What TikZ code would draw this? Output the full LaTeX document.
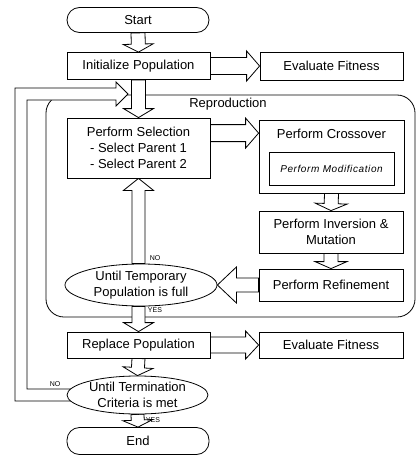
\documentclass[tikz,border=0pt]{standalone}
\usepackage{fontspec}
\setmainfont{Liberation Sans}
\usetikzlibrary{calc,shapes.geometric}
\pgfdeclarelayer{back}
\pgfdeclarelayer{mid}
\pgfsetlayers{back,mid,main}
% block (hollow) arrow: from, to, shaft half width, head half width, head length
\newcommand\blockarrow[5]{%
  \path ($(#2)!#5!(#1)$) coordinate (hb);
  \draw[barrow] ($(#1)!#3!90:(#2)$) -- ($(hb)!#3!90:(#2)$) -- ($(hb)!#4!90:(#2)$) -- (#2)
    -- ($(hb)!#4!-90:(#2)$) -- ($(hb)!#3!-90:(#2)$) -- ($(#1)!#3!-90:(#2)$) -- cycle;}
\begin{document}
\begin{tikzpicture}[x=1pt,y=-1pt,
  txt/.style={font=\fontsize{13}{16}\selectfont},
  box/.style={txt, draw, fill=white, line width=0.8pt, inner sep=0pt, align=center, minimum width=143pt},
  stadium/.style={box, rounded corners=12.5pt},
  oval/.style={txt, ellipse, draw, fill=white, line width=0.8pt, inner sep=0pt, align=center},
  barrow/.style={draw, fill=white, line width=0.8pt, line join=miter},
  small/.style={font=\fontsize{7}{8}\selectfont, inner sep=0pt}]
\useasboundingbox (0,0) rectangle (417,463);
\begin{pgfonlayer}{back}
\node[draw, line width=0.8pt, rounded corners=18pt, minimum width=369pt, minimum height=222pt, inner sep=0pt] (repro) at (230.5,206) {};
\end{pgfonlayer}
\node[txt] (reprotxt) at (228,104) {Reproduction};

\node[stadium, minimum height=25pt, minimum width=142pt] (start) at (138,20) {Start};
\node[box, minimum height=27pt] (init) at (138.5,66) {Initialize Population};
\node[box, minimum height=28pt] (eval1) at (331.5,66) {Evaluate Fitness};
\node[box, minimum height=60pt] (sel) at (138.5,148) {Perform Selection\\- Select Parent 1\\- Select Parent 2};
\node[box, minimum width=145pt, minimum height=73pt] (cross) at (331.5,156.5) {};
\node[txt, inner sep=0pt] (crosstxt) at (331.5,134) {Perform Crossover};
\node[draw, fill=white, line width=0.6pt, minimum width=125pt, minimum height=33pt, inner sep=0pt,
  font=\fontsize{10}{12}\selectfont\itshape\addfontfeature{LetterSpace=6}] (mod) at (331.5,168.5) {Perform Modification};
\node[box, minimum width=144pt, minimum height=42pt] (inv) at (331,232) {Perform Inversion \&\\Mutation};
\node[box, minimum width=144pt, minimum height=32pt] (ref) at (331,285) {Perform Refinement};
\node[oval, minimum width=152pt, minimum height=42pt] (temp) at (141,285) {Until Temporary\\Population is full};
\node[box, minimum height=26pt] (repl) at (138.5,345) {Replace Population};
\node[box, minimum width=144pt, minimum height=26pt] (eval2) at (331,345) {Evaluate Fitness};
\node[oval, minimum width=141pt, minimum height=38pt] (term) at (137.5,395) {Until Termination\\Criteria is met};
\node[stadium, minimum height=27pt, minimum width=142pt] (end) at (138,441) {End};

\node[small] (no1) at (155,258) {NO};
\node[small] (yes1) at (155,310) {YES};
\node[small] (no2) at (55,384) {NO};
\node[small] (yes2) at (153,420) {YES};

\begin{pgfonlayer}{mid}
% feedback from termination check back to the loop start
\draw[barrow] ($(term.west)+(12,-6)$) -- (27,389) -- (27,100) -- (116,100) -- (116,106) -- (128,94)
  -- (116,82) -- (116,88) -- (15,88) -- (15,401) -- ($(term.west)+(12,6)$) -- cycle;
\blockarrow{start.south}{init.north}{7pt}{15pt}{8pt}
\blockarrow{init.south}{sel.north}{7pt}{15pt}{9pt}
\blockarrow{init.east}{eval1.west}{8.5pt}{15pt}{13pt}
\coordinate (sc) at ($(sel.north east)+(0,15.5)$);
\coordinate (cc) at (sc -| cross.west);
\blockarrow{sc}{cc}{8.5pt}{15pt}{13pt}
\blockarrow{cross.south}{inv.north}{7pt}{16pt}{7pt}
\blockarrow{inv.south}{ref.north}{7pt}{16pt}{7pt}
\coordinate (tw) at (temp.east |- ref.west);
\blockarrow{ref.west}{tw}{7pt}{18pt}{19pt}
\coordinate (tn) at (temp.north -| sel.south);
\blockarrow{tn}{sel.south}{6.5pt}{15pt}{12pt}
\coordinate (ts) at (temp.south -| repl.north);
\blockarrow{ts}{repl.north}{6.5pt}{15pt}{9pt}
\blockarrow{repl.east}{eval2.west}{8pt}{14pt}{13pt}
\blockarrow{repl.south}{term.north}{6.5pt}{15pt}{8pt}
\blockarrow{term.south}{end.north}{6.5pt}{15pt}{7pt}
\end{pgfonlayer}
\end{tikzpicture}
\end{document}
